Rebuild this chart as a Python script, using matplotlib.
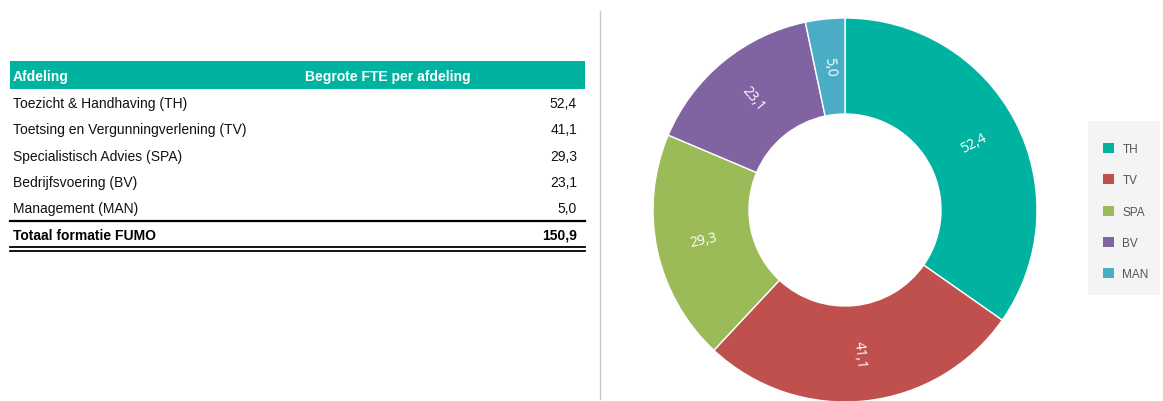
import matplotlib.pyplot as plt
from matplotlib.patches import Rectangle, Patch
from matplotlib.lines import Line2D
import numpy as np

afdelingen = ["Toezicht & Handhaving (TH)", "Toetsing en Vergunningverlening (TV)",
              "Specialistisch Advies (SPA)", "Bedrijfsvoering (BV)", "Management (MAN)"]
codes = ["TH", "TV", "SPA", "BV", "MAN"]
fte = [52.4, 41.1, 29.3, 23.1, 5.0]
colors = ["#00b3a1", "#c0504d", "#9bbb59", "#8064a2", "#4bacc6"]

def nl(v):
    return f"{v:.1f}".replace(".", ",")

plt.rcParams['font.family'] = ['Liberation Sans', 'DejaVu Sans']
fig = plt.figure(figsize=(11.63, 4.02), dpi=100)
W, H = 1163, 402

# table (pixel-like coordinates)
axt = fig.add_axes([0, 0, 605/W, 1])
axt.set_xlim(0, 605)
axt.set_ylim(402, 0)
axt.axis('off')
axt.add_patch(Rectangle((10, 62), 575, 28, color="#00b3a1", lw=0))
axt.text(13, 77, "Afdeling", color="white", fontweight="bold", fontsize=10, va="center")
axt.text(305, 77, "Begrote FTE per afdeling", color="white", fontweight="bold", fontsize=10, va="center")
for i, (name, v) in enumerate(zip(afdelingen, fte)):
    y = 104 + i * 26.3
    axt.text(13, y, name, fontsize=10, va="center", color="#111111")
    axt.text(577, y, nl(v), fontsize=10, va="center", ha="right", color="#111111")
axt.plot([10, 585], [222, 222], color="black", lw=1.6)
axt.text(13, 236, "Totaal formatie FUMO", fontsize=10, fontweight="bold", va="center")
axt.text(577, 236, nl(sum(fte)), fontsize=10, fontweight="bold", va="center", ha="right")
axt.plot([10, 585], [248, 248], color="black", lw=1.3)
axt.plot([10, 585], [252, 252], color="black", lw=1.3)

# separator
fig.add_artist(Line2D([600/W, 600/W], [2/H, 390/H], color="#c8c8c8", lw=1))

# donut
axp = fig.add_axes([645/W, -9/H, 400/W, 400/H])
wedges, _ = axp.pie(fte, colors=colors, startangle=90, counterclock=False,
                    radius=1, wedgeprops=dict(width=0.5, edgecolor="white", linewidth=1))
axp.set_xlim(-200/192, 200/192)
axp.set_ylim(-200/192, 200/192)
for w, v in zip(wedges, fte):
    ang = (w.theta1 + w.theta2) / 2
    r = 0.755
    x, y = r * np.cos(np.radians(ang)), r * np.sin(np.radians(ang))
    rot = ang
    a = ang % 360
    if 90 < a < 270:
        rot = a - 180
    axp.text(x, y, nl(v), color="white", fontsize=10, ha="center", va="center",
             rotation=rot, rotation_mode="anchor", family=["Open Sans", "DejaVu Sans"])

# legend with separate background box
fig.add_artist(Rectangle((1088/W, 1 - 296/H), 72/W, 174/H, facecolor="#f4f4f4",
                         edgecolor="none", transform=fig.transFigure, zorder=0))
handles = [Patch(facecolor=c, edgecolor="none") for c in colors]
leg = fig.legend(handles, codes, loc="upper left", bbox_to_anchor=(1103/W, 1 - 144/H),
                 frameon=False, labelspacing=1.62, handlelength=0.95, handleheight=0.95,
                 handletextpad=0.7, borderpad=0, borderaxespad=0,
                 prop={"family": ["Liberation Sans", "DejaVu Sans"], "size": 8.5})
for t in leg.get_texts():
    t.set_color("#555555")

fig.savefig("out.png", dpi=100)
